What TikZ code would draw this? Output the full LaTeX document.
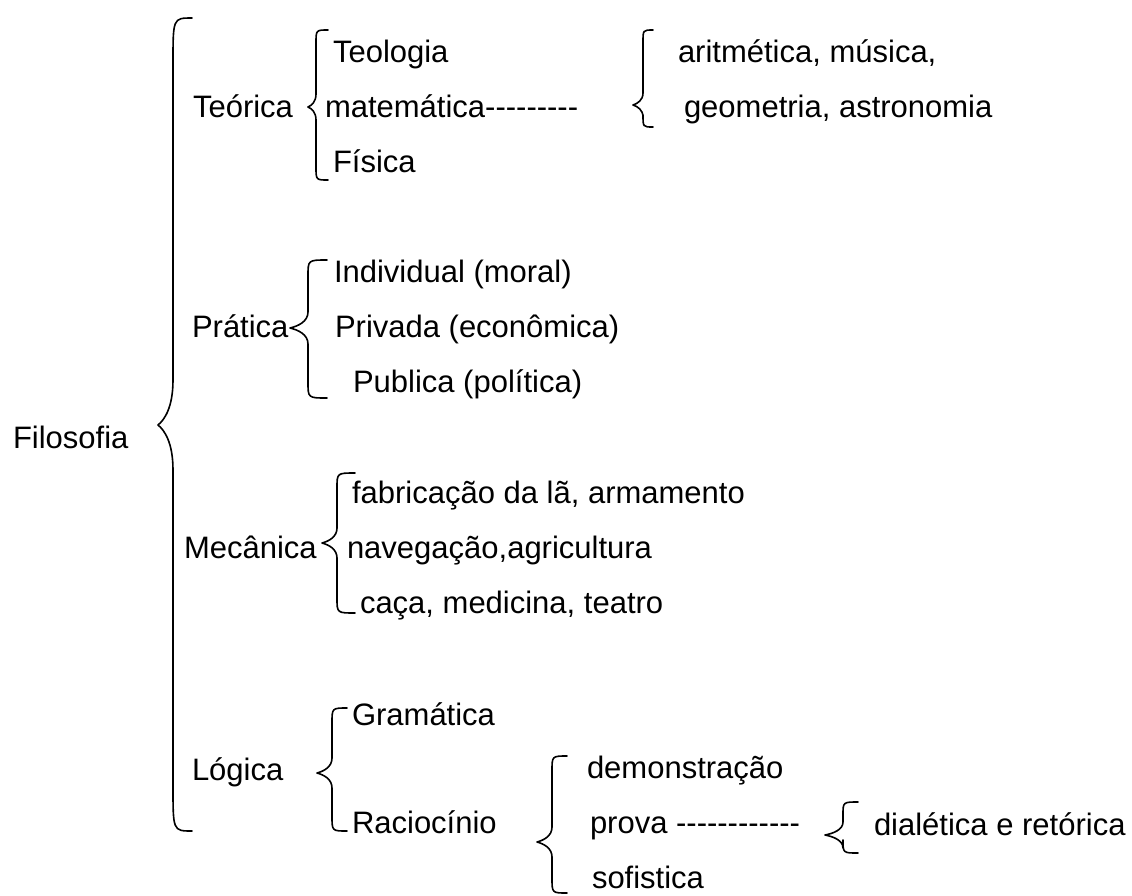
\documentclass[tikz,border=0pt]{standalone}
\usepackage{fontspec}
\newfontfamily\arialf{Liberation Sans}[Ligatures=CommonOff]
\newcommand{\curlybr}[7]{%
  \draw[bracestyle] (#1,#4) .. controls (#2,#4) .. (#2,#4+#7) -- (#2,#5-#7)
    .. controls (#2,#5-0.4*#7) and ({#3+0.45*(#2-#3)},#5-0.12*#7) .. (#3,#5)
    .. controls ({#3+0.45*(#2-#3)},#5+0.12*#7) and (#2,#5+0.4*#7) .. (#2,#5+#7)
    -- (#2,#6-#7) .. controls (#2,#6) .. (#1,#6);}
\tikzset{
  lbl/.style={anchor=base west, inner sep=0pt, outer sep=0pt, font=\arialf\fontsize{31}{37}\selectfont},
  bracestyle/.style={draw=black, line width=1.6pt, line cap=round, line join=round}
}
\begin{document}
\begin{tikzpicture}[x=1pt,y=-1pt]
\useasboundingbox[fill=white] (0,0) rectangle (1132,895);
% texts
\node[lbl] (filo) at (13,448) {Filosofia};
\node[lbl] (teor) at (193,117) {Teórica};
\node[lbl] (teol) at (333,62) {Teologia};
\node[lbl] (mate) at (325,117) {matemática---------};
\node[lbl] (fisi) at (333,172) {Física};
\node[lbl] (arit) at (678,62) {aritmética, música,};
\node[lbl] (geom) at (684,117) {geometria, astronomia};
\node[lbl] (prat) at (192,337) {Prática};
\node[lbl] (indi) at (334,282) {Individual (moral)};
\node[lbl] (priv) at (335,337) {Privada (econômica)};
\node[lbl] (publ) at (353,392) {Publica (política)};
\node[lbl] (meca) at (184,558) {Mecânica};
\node[lbl] (fabr) at (352,503) {fabricação da lã, armamento};
\node[lbl] (nave) at (347,558) {navegação,agricultura};
\node[lbl] (caca) at (360,613) {caça, medicina, teatro};
\node[lbl] (logi) at (192,780) {Lógica};
\node[lbl] (gram) at (352,725) {Gramática};
\node[lbl] (raci) at (352,833) {Raciocínio};
\node[lbl] (demo) at (587,778) {demonstração};
\node[lbl] (prov) at (590,833) {prova ------------};
\node[lbl] (sofi) at (592,888) {sofistica};
\node[lbl] (dial) at (874,835) {dialética e retórica};
% braces
\curlybr{192}{173}{158}{18}{425}{831}{45}
\curlybr{328}{316}{308}{30}{107}{180}{13}
\curlybr{653}{643}{633}{30}{105}{127}{12}
\curlybr{327}{308}{290}{260}{328}{398}{16}
\curlybr{355}{337}{322}{473}{543}{613}{15}
\curlybr{347}{332}{317}{708}{773}{831}{15}
\curlybr{567}{552}{537}{756}{842}{893}{15}
\curlybr{858}{843}{825}{802}{835}{853}{13}
\end{tikzpicture}
\end{document}
